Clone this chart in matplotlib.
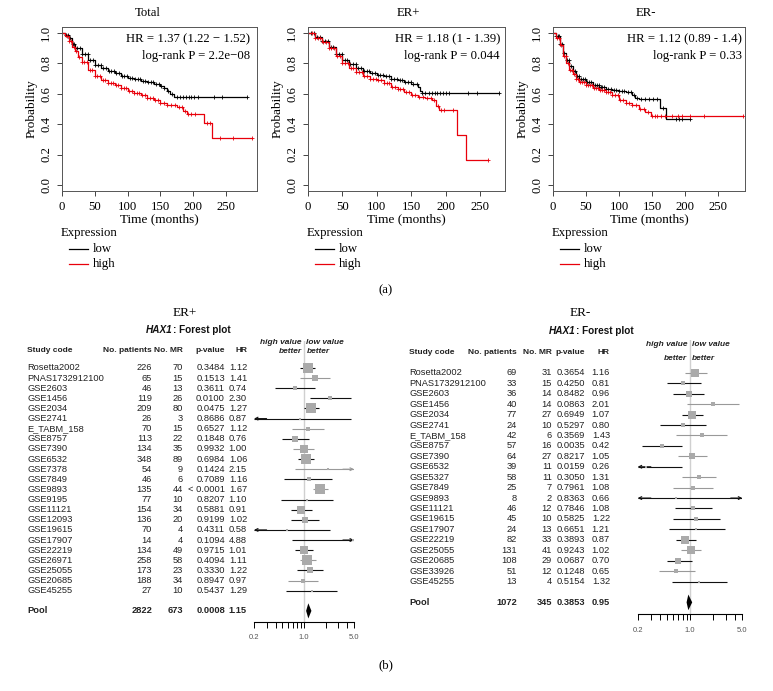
import numpy as np
import matplotlib.pyplot as plt
from matplotlib.ticker import FixedLocator, FixedFormatter, NullLocator
from matplotlib.transforms import blended_transform_factory

W, H = 773, 691

# ---------------- Kaplan-Meier data ----------------
km_titles = ["Total", "ER+", "ER-"]
km_hr = ["HR = 1.37 (1.22 \u2212 1.52)", "HR = 1.18 (1 - 1.39)", "HR = 1.12 (0.89 - 1.4)"]
km_p = ["log-rank P = 2.2e\u221208", "log-rank P = 0.044", "log-rank P = 0.33"]

tot_low_t = [0, 5, 10, 15, 20, 30, 40, 50, 60, 70, 80, 90, 100, 110, 120, 130, 140, 150, 155, 160, 165, 170, 282]
tot_low_s = [1.0, 0.99, 0.97, 0.93, 0.90, 0.86, 0.82, 0.79, 0.77, 0.75, 0.735, 0.72, 0.705, 0.695, 0.685, 0.675, 0.665, 0.65, 0.64, 0.62, 0.60, 0.578, 0.578]
tot_low_c = [6, 9, 12, 16, 19, 23, 27, 31, 35, 39, 43, 47, 51, 55, 59, 63, 67, 71, 75, 79, 83, 87, 91, 95, 99, 103, 107, 111,
             115, 119, 123, 127, 131, 135, 139, 143, 147, 151, 156, 161, 168, 175, 180, 185, 189, 193, 197, 201, 207, 232, 244, 282]
tot_high_t = [0, 5, 10, 15, 20, 25, 30, 40, 50, 60, 70, 80, 90, 100, 110, 120, 130, 140, 150, 160, 175, 185, 190, 216, 228, 289]
tot_high_s = [1.0, 0.98, 0.95, 0.91, 0.88, 0.84, 0.81, 0.76, 0.72, 0.69, 0.67, 0.655, 0.64, 0.62, 0.605, 0.59, 0.575, 0.56, 0.54, 0.525, 0.51, 0.49, 0.47, 0.405, 0.31, 0.31]
tot_high_c = [7, 11, 14, 18, 22, 26, 30, 34, 38, 42, 46, 50, 54, 58, 62, 66, 70, 74, 78, 82, 86, 90, 94, 98, 102, 106, 110,
              114, 118, 122, 126, 130, 134, 138, 142, 146, 150, 155, 160, 166, 172, 178, 183, 188, 192, 197, 203, 221, 225, 240, 260, 289]

erp_low_t = [0, 10, 20, 30, 40, 50, 60, 70, 80, 90, 100, 110, 120, 130, 140, 150, 160, 163, 165, 277]
erp_low_s = [1.0, 0.975, 0.945, 0.91, 0.865, 0.825, 0.795, 0.77, 0.75, 0.735, 0.725, 0.715, 0.70, 0.69, 0.68, 0.665, 0.645, 0.62, 0.604, 0.604]
erp_low_c = [5, 9, 13, 17, 21, 25, 29, 33, 37, 41, 45, 49, 53, 57, 61, 65, 69, 73, 77, 81, 85, 89, 93, 97, 101, 105, 109,
             113, 117, 121, 125, 129, 133, 137, 141, 145, 149, 153, 158, 166, 170, 175, 180, 184, 188, 192, 196, 200, 205, 232, 245, 277]
erp_high_t = [0, 10, 20, 30, 40, 50, 60, 70, 80, 90, 100, 110, 120, 130, 140, 150, 160, 170, 180, 186, 190, 216, 229, 261]
erp_high_s = [1.0, 0.97, 0.94, 0.90, 0.85, 0.80, 0.77, 0.745, 0.72, 0.70, 0.69, 0.67, 0.645, 0.63, 0.615, 0.59, 0.58, 0.575, 0.56, 0.52, 0.495, 0.33, 0.165, 0.165]
erp_high_c = [6, 10, 14, 18, 22, 26, 30, 34, 38, 42, 46, 50, 54, 58, 62, 66, 70, 74, 78, 82, 86, 90, 94, 98, 102, 106, 110,
              114, 118, 122, 126, 130, 134, 138, 142, 146, 151, 156, 161, 167, 173, 178, 183, 189, 193, 198, 210, 261]

ern_low_t = [0, 5, 10, 15, 20, 25, 30, 35, 40, 50, 60, 70, 80, 90, 100, 110, 120, 125, 130, 162, 171, 208]
ern_low_s = [1.0, 0.98, 0.93, 0.87, 0.82, 0.78, 0.75, 0.72, 0.70, 0.675, 0.66, 0.645, 0.635, 0.625, 0.62, 0.615, 0.59, 0.57, 0.567, 0.505, 0.433, 0.433]
ern_low_c = [5, 7, 9, 11, 14, 17, 21, 24, 27, 30, 33, 36, 39, 42, 45, 48, 51, 54, 57, 60, 63, 66, 69, 72, 75, 78, 81, 84,
             88, 92, 96, 100, 104, 108, 113, 118, 123, 128, 134, 140, 146, 152, 158, 166, 187, 191, 196, 208]
ern_high_t = [0, 5, 10, 15, 20, 25, 30, 35, 40, 50, 60, 70, 80, 90, 100, 110, 120, 130, 140, 148, 288]
ern_high_s = [1.0, 0.97, 0.92, 0.85, 0.80, 0.76, 0.73, 0.70, 0.68, 0.655, 0.64, 0.625, 0.61, 0.59, 0.56, 0.54, 0.525, 0.50, 0.48, 0.455, 0.455]
ern_high_c = [6, 9, 12, 16, 19, 23, 26, 29, 32, 35, 38, 41, 44, 47, 50, 53, 56, 59, 62, 65, 68, 71, 74, 77, 80, 83, 86, 90,
              94, 98, 102, 106, 110, 115, 120, 126, 132, 138, 144, 150, 154, 158, 163, 170, 180, 190, 196, 207, 229, 288]

km_low = [(tot_low_t, tot_low_s, tot_low_c), (erp_low_t, erp_low_s, erp_low_c), (ern_low_t, ern_low_s, ern_low_c)]
km_high = [(tot_high_t, tot_high_s, tot_high_c), (erp_high_t, erp_high_s, erp_high_c), (ern_high_t, ern_high_s, ern_high_c)]

# ---------------- Forest plot data ----------------
erp_names = ["Rosetta2002", "PNAS1732912100", "GSE2603", "GSE1456", "GSE2034", "GSE2741", "E_TABM_158", "GSE8757",
             "GSE7390", "GSE6532", "GSE7378", "GSE7849", "GSE9893", "GSE9195", "GSE11121", "GSE12093", "GSE19615",
             "GSE17907", "GSE22219", "GSE26971", "GSE25055", "GSE20685", "GSE45255"]
erp_npat = ["226", "65", "46", "119", "209", "26", "70", "113", "134", "348", "54", "46", "135", "77", "154", "136", "70",
            "14", "134", "258", "173", "188", "27"]
erp_nmr = ["70", "15", "13", "26", "80", "3", "15", "22", "35", "89", "9", "6", "44", "10", "34", "20", "4", "4", "49",
           "58", "23", "34", "10"]
erp_pval = ["0.3484", "0.1513", "0.3611", "0.0100", "0.0475", "0.8686", "0.6527", "0.1848", "0.9932", "0.6984", "0.1424",
            "0.7089", "< 0.0001", "0.8207", "0.5881", "0.9199", "0.4311", "0.1094", "0.9715", "0.4094", "0.3330",
            "0.8947", "0.5437"]
erp_hr = [1.12, 1.41, 0.74, 2.30, 1.27, 0.87, 1.12, 0.76, 1.00, 1.06, 2.15, 1.16, 1.67, 1.10, 0.91, 1.02, 0.58, 4.88,
          1.01, 1.11, 1.22, 0.97, 1.29]
erp_lo = [0.88, 0.88, 0.39, 1.21, 1.00, 0.16, 0.67, 0.50, 0.71, 0.82, 0.75, 0.53, 1.35, 0.48, 0.65, 0.65, 0.14, 0.69,
          0.75, 0.88, 0.81, 0.60, 0.56]
erp_hi = [1.43, 2.31, 1.43, 4.50, 1.64, 4.60, 1.90, 1.16, 1.40, 1.40, 6.2, 2.49, 2.14, 2.57, 1.28, 1.62, 2.31, 34.0,
          1.35, 1.46, 1.86, 1.59, 2.93]
erp_pool = ["2822", "673", "0.0008", 1.15, 1.07, 1.27]

ern_names = ["Rosetta2002", "PNAS1732912100", "GSE2603", "GSE1456", "GSE2034", "GSE2741", "E_TABM_158", "GSE8757",
             "GSE7390", "GSE6532", "GSE5327", "GSE7849", "GSE9893", "GSE11121", "GSE19615", "GSE17907", "GSE22219",
             "GSE25055", "GSE20685", "GSE33926", "GSE45255"]
ern_npat = ["69", "33", "36", "40", "77", "24", "42", "57", "64", "39", "58", "25", "8", "46", "45", "24", "82", "131",
            "108", "51", "13"]
ern_nmr = ["31", "15", "14", "14", "27", "10", "6", "16", "27", "11", "11", "7", "2", "12", "10", "13", "33", "41", "29",
           "12", "4"]
ern_pval = ["0.3654", "0.4250", "0.8482", "0.0863", "0.6949", "0.5297", "0.3569", "0.0035", "0.8217", "0.0159", "0.3050",
            "0.7961", "0.8363", "0.7846", "0.5825", "0.6651", "0.3893", "0.9243", "0.0687", "0.1248", "0.5154"]
ern_hr = [1.16, 0.81, 0.96, 2.01, 1.07, 0.80, 1.43, 0.42, 1.05, 0.26, 1.31, 1.08, 0.66, 1.08, 1.22, 1.21, 0.87, 1.02,
          0.70, 0.65, 1.32]
ern_lo = [0.86, 0.49, 0.60, 0.92, 0.77, 0.40, 0.66, 0.23, 0.69, 0.09, 0.79, 0.60, 0.06, 0.63, 0.60, 0.52, 0.66, 0.75,
          0.49, 0.38, 0.58]
ern_hi = [1.67, 1.39, 1.54, 4.53, 1.49, 1.62, 3.16, 0.77, 1.67, 0.79, 2.21, 2.05, 7.5, 1.95, 2.50, 2.94, 1.22, 1.42,
          1.07, 1.17, 3.16]
ern_pool = ["1072", "345", "0.3853", 0.95, 0.90, 1.07]

# line shade of each CI (True = black, False = grey)
erp_dark = [True, False, True, True, True, True, False, True, False, True, False, True, False, True, True, True, True,
            True, True, False, True, False, True]
ern_dark = [False, True, True, False, True, True, False, True, False, True, False, False, True, True, True, True, True,
            False, True, False, True]

serif = "Liberation Serif"
sans = "Liberation Sans"
plt.rcParams['font.family'] = serif

fig = plt.figure(figsize=(W / 100, H / 100), dpi=100)


def box(l, t, r, b):
    return [l / W, 1 - b / H, (r - l) / W, (b - t) / H]


def ftext(x, y, s, **kw):
    fig.text(x / W, 1 - y / H, s, **kw)


def step_at(t, s, c):
    idx = np.searchsorted(t, c, side='right') - 1
    return np.asarray(s)[idx]


# ---------------- Kaplan-Meier panels ----------------
km_boxes = [(62, 27, 257, 191), (308, 27, 505, 191), (553, 27, 745, 191)]
km_xmax = [297, 286, 291]
km_title_x = [148, 408, 646]
km_txt_x = [250, 500, 742]
fsk = 9.2

for k in range(3):
    l, t, r, b = km_boxes[k]
    ax = fig.add_axes(box(l, t, r, b))
    for (tt, ss, cc), col in [(km_low[k], 'black'), (km_high[k], '#e8000b')]:
        ax.step(tt, ss, where='post', color=col, lw=0.9)
        ax.plot(cc, step_at(tt, ss, cc), '+', color=col, ms=3.5, mew=0.6)
    ax.set_xlim(0, km_xmax[k])
    ax.set_ylim(-0.04, 1.04)
    ax.set_xticks([0, 50, 100, 150, 200, 250])
    ax.set_yticks([0.0, 0.2, 0.4, 0.6, 0.8, 1.0])
    ax.set_yticklabels(["0.0", "0.2", "0.4", "0.6", "0.8", "1.0"], rotation=90, va='center')
    ax.tick_params(length=3.5, width=0.7, labelsize=fsk, color='#444444')
    for sp in ax.spines.values():
        sp.set_linewidth(0.7)
        sp.set_color('#555555')
    ax.set_xlabel("Time (months)", fontsize=fsk + 0.3, labelpad=0.5)
    ax.set_ylabel("Probability", fontsize=fsk + 0.3, labelpad=2)
    ftext(km_title_x[k], 13, km_titles[k], ha='center', va='center', fontsize=fsk)
    ftext(km_txt_x[k], 39, km_hr[k], ha='right', va='center', fontsize=fsk)
    ftext(km_txt_x[k], 56, km_p[k], ha='right', va='center', fontsize=fsk)
    # legend
    ftext(l - 1, 233, "Expression", ha='left', va='center', fontsize=fsk)
    fig.add_artist(plt.Line2D([(l + 7) / W, (l + 26) / W], [1 - 249 / H] * 2, color='black', lw=0.9))
    fig.add_artist(plt.Line2D([(l + 7) / W, (l + 26) / W], [1 - 264 / H] * 2, color='#e8000b', lw=0.9))
    ftext(l + 31, 249, "low", ha='left', va='center', fontsize=fsk)
    ftext(l + 31, 264, "high", ha='left', va='center', fontsize=fsk)

ftext(386, 290, "(a)", ha='center', va='center', fontsize=fsk)
ftext(386, 665, "(b)", ha='center', va='center', fontsize=fsk)


# ---------------- Forest plots ----------------
def forest(cfg, names, npat, nmr, pval, hr, lo, hi, dark, pool):
    x02, x5, y0, dy, ytop, yaxis = cfg['x02'], cfg['x5'], cfg['y0'], cfg['dy'], cfg['ytop'], cfg['yaxis']
    ax = fig.add_axes(box(x02, ytop, x5, yaxis))
    ipool = len(names) + 1
    ax.set_xscale('log')
    ax.set_xlim(0.2, 5.0)
    ax.set_ylim((yaxis - y0) / dy, (ytop - y0) / dy)
    for sp in ['left', 'right', 'top']:
        ax.spines[sp].set_visible(False)
    ax.spines['bottom'].set_linewidth(0.8)
    ticks = [0.2, 0.3, 0.4, 0.5, 0.6, 0.7, 0.8, 0.9, 1.0, 2.0, 3.0, 4.0, 5.0]
    ax.xaxis.set_major_locator(FixedLocator(ticks))
    ax.xaxis.set_major_formatter(FixedFormatter(["0.2"] + [""] * 7 + ["1.0", "", "", "", "5.0"]))
    ax.xaxis.set_minor_locator(NullLocator())
    ax.yaxis.set_visible(False)
    ax.tick_params(axis='x', length=4, width=0.7, labelsize=5.5, labelcolor='#555555', pad=5)
    for lab in ax.get_xticklabels():
        lab.set_family(sans)
    ax.axvline(1.0, color='#d0d0d0', lw=1.0, zorder=0)

    rows = np.arange(len(names))
    hr = np.asarray(hr)
    lo = np.asarray(lo)
    hi = np.asarray(hi)
    se = (np.log(hi) - np.log(lo)) / 3.92
    side = np.clip(1.05 / se, 1.8, 11.0)  # square size in px from study weight
    for i in rows:
        col = '#111111' if dark[i] else '#999999'
        a, z = max(lo[i], 0.2), min(hi[i], 5.0)
        ax.plot([a, z], [i, i], color=col, lw=0.8, solid_capstyle='butt')
        if lo[i] < 0.2:
            ax.annotate('', xy=(0.2, i), xytext=(0.3, i),
                        arrowprops=dict(arrowstyle='->', color=col, lw=0.8, mutation_scale=5, shrinkA=0, shrinkB=0))
        if hi[i] > 5.0:
            ax.annotate('', xy=(5.0, i), xytext=(3.5, i),
                        arrowprops=dict(arrowstyle='->', color=col, lw=0.8, mutation_scale=5, shrinkA=0, shrinkB=0))
        ax.plot(hr[i], i, 's', color='#aaaaaa', ms=side[i] * 0.85, mew=0, zorder=3)
    phr, plo, phi = pool[3], pool[4], pool[5]
    ax.fill([plo, phr, phi, phr], [ipool, ipool - 0.75, ipool, ipool + 0.75], color='black', lw=0)

    tr = blended_transform_factory(fig.transFigure, ax.transData)
    fs = 6.7
    kw = dict(transform=tr, va='center', fontsize=fs, family=sans, color='#222222')
    for i in rows:
        ax.text(cfg['c_name'] / W, i, names[i], ha='left', **kw)
        ax.text(cfg['c_npat'] / W, i, npat[i], ha='right', **kw)
        ax.text(cfg['c_nmr'] / W, i, nmr[i], ha='right', **kw)
        ax.text(cfg['c_p'] / W, i, pval[i], ha='right', **kw)
        ax.text(cfg['c_hr'] / W, i, "%.2f" % hr[i], ha='right', **kw)
    ax.text(cfg['c_name'] / W, ipool, "Pool", ha='left', weight='bold', **kw)
    ax.text(cfg['c_npat'] / W, ipool, pool[0], ha='right', weight='bold', **kw)
    ax.text(cfg['c_nmr'] / W, ipool, pool[1], ha='right', weight='bold', **kw)
    ax.text(cfg['c_p'] / W, ipool, pool[2], ha='right', weight='bold', **kw)
    ax.text(cfg['c_hr'] / W, ipool, "%.2f" % phr, ha='right', weight='bold', **kw)

    hk = dict(va='center', fontsize=6.0, family=sans, weight='bold', color='#222222')
    yh = cfg['yhead']
    ftext(cfg['c_name'], yh, "Study code", ha='left', **hk)
    ftext(cfg['c_npat'], yh, "No. patients", ha='right', **hk)
    ftext(cfg['c_nmr'], yh, "No. MR", ha='right', **hk)
    ftext(cfg['c_p'], yh, "p-value", ha='right', **hk)
    ftext(cfg['c_hr'], yh, "HR", ha='right', **hk)
    ik = dict(va='center', fontsize=6.0, family=sans, weight='bold', style='italic', color='#222222')
    x1 = cfg['x1']
    ftext(x1 - 2.5, cfg['yb1'], "high value", ha='right', **ik)
    ftext(x1 - 2.5, cfg['yb2'], "better", ha='right', **ik)
    ftext(x1 + 2.5, cfg['yb1'], "low value", ha='left', **ik)
    ftext(x1 + 2.5, cfg['yb2'], "better", ha='left', **ik)
    # title
    ftext(cfg['tsplit'], cfg['ytitle'], "HAX1", ha='right', va='center', fontsize=7.2, family=sans,
          weight='bold', style='italic', color='#111111')
    ftext(cfg['tsplit'], cfg['ytitle'], ": Forest plot", ha='left', va='center', fontsize=7.2, family=sans,
          weight='bold', color='#111111')
    ftext(cfg['lab_x'], 313, cfg['label'], ha='center', va='center', fontsize=fsk + 0.3, family=serif)


cfg_erp = dict(x02=254, x5=354, x1=304, y0=368, dy=10.12, ytop=341, yaxis=621.7, c_name=27, c_npat=152, c_nmr=183,
               c_p=225, c_hr=247, yhead=350, yb1=342, yb2=352, tsplit=173, ytitle=330, lab_x=185, label="ER+")
cfg_ern = dict(x02=637.7, x5=742.3, x1=689.5, y0=372.9, dy=10.43, ytop=340, yaxis=614, c_name=409, c_npat=517,
               c_nmr=552, c_p=585, c_hr=610, yhead=353, yb1=345, yb2=358, tsplit=576, ytitle=331, lab_x=580,
               label="ER-")

forest(cfg_erp, erp_names, erp_npat, erp_nmr, erp_pval, erp_hr, erp_lo, erp_hi, erp_dark, erp_pool)
forest(cfg_ern, ern_names, ern_npat, ern_nmr, ern_pval, ern_hr, ern_lo, ern_hi, ern_dark, ern_pool)

fig.savefig("out.png", dpi=100)
